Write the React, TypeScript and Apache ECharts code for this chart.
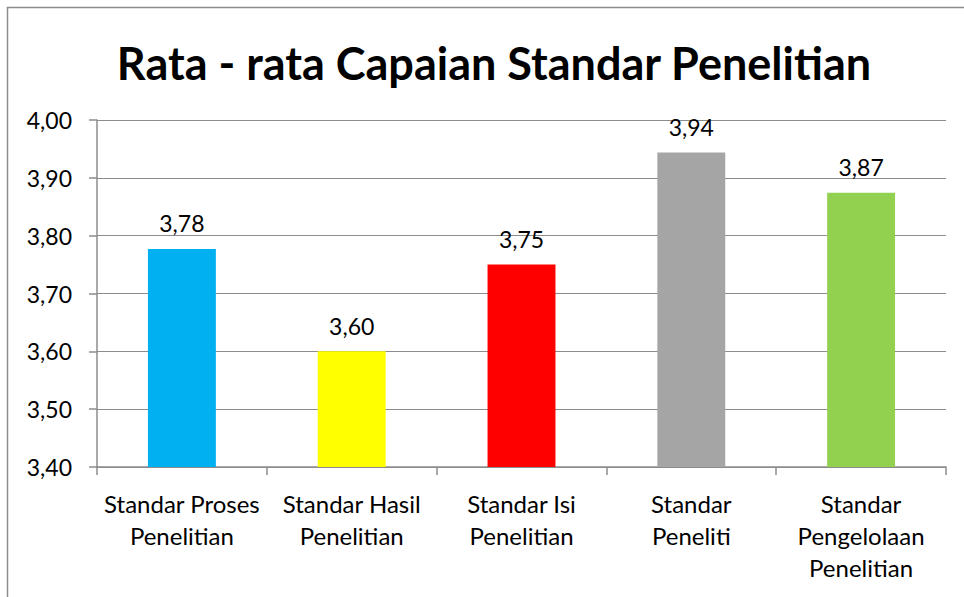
import React, { useEffect, useRef } from "react";
import * as echarts from "echarts";

const categories = [
  "Standar Proses\nPenelitian",
  "Standar Hasil\nPenelitian",
  "Standar Isi\nPenelitian",
  "Standar\nPeneliti",
  "Standar\nPengelolaan\nPenelitian",
];
const values = [3.777, 3.6, 3.75, 3.944, 3.874];
const colors = ["#00B0F0", "#FFFF00", "#FF0000", "#A5A5A5", "#92D050"];
const titleText = "Rata - rata Capaian Standar Penelitian";

const FONT = "Lato";
const fmt = (v: number) => v.toFixed(2).replace(".", ",");

export default function App() {
  const ref = useRef<HTMLDivElement>(null);
  useEffect(() => {
    if (!ref.current) return;
    const chart = echarts.init(ref.current, undefined, { renderer: "svg" });
    chart.setOption({
      animation: false,
      backgroundColor: "#ffffff",
      title: {
        text: titleText,
        left: 489,
        textAlign: "center",
        top: 33,
        textStyle: { fontFamily: FONT, fontWeight: "bold", fontSize: 45, color: "#000", lineHeight: 50 },
      },
      graphic: [
        {
          type: "rect",
          shape: { x: 7.5, y: 7.5, width: 1000, height: 1000 },
          style: { fill: "none", stroke: "#8c8c8c", lineWidth: 1.5 },
          silent: true,
        },
      ],
      grid: { left: 97, right: 18, top: 120, bottom: 130, containLabel: false },
      xAxis: {
        type: "category",
        data: categories,
        axisLine: { show: true, lineStyle: { color: "#8c8c8c", width: 1.5 } },
        axisTick: { show: true, length: 8, alignWithLabel: false, lineStyle: { color: "#8c8c8c", width: 1.5 } },
        axisLabel: {
          interval: 0,
          margin: 20,
          fontFamily: FONT,
          fontSize: 24,
          lineHeight: 32,
          color: "#000",
          align: "center",
        },
      },
      yAxis: {
        type: "value",
        min: 3.4,
        max: 4.0,
        interval: 0.1,
        axisLine: { show: true, lineStyle: { color: "#8c8c8c", width: 1.5 } },
        axisTick: { show: true, length: 8, lineStyle: { color: "#8c8c8c", width: 1.5 } },
        splitLine: { show: true, lineStyle: { color: "#8c8c8c", width: 1.2 } },
        axisLabel: {
          fontFamily: FONT,
          fontSize: 23,
          color: "#000",
          margin: 25,
          formatter: (v: number) => fmt(v),
        },
      },
      series: [
        {
          type: "bar",
          barWidth: "40%",
          data: values.map((v, i) => ({ value: v, itemStyle: { color: colors[i] } })),
          label: {
            show: true,
            position: "top",
            distance: 14,
            fontFamily: FONT,
            fontSize: 23,
            color: "#000",
            formatter: (p: any) => fmt(p.value),
          },
        },
      ],
    });
    return () => chart.dispose();
  }, []);
  return (
    <div
      ref={ref}
      style={{ position: "fixed", left: 0, top: 0, width: 964, height: 597 }}
    />
  );
}
